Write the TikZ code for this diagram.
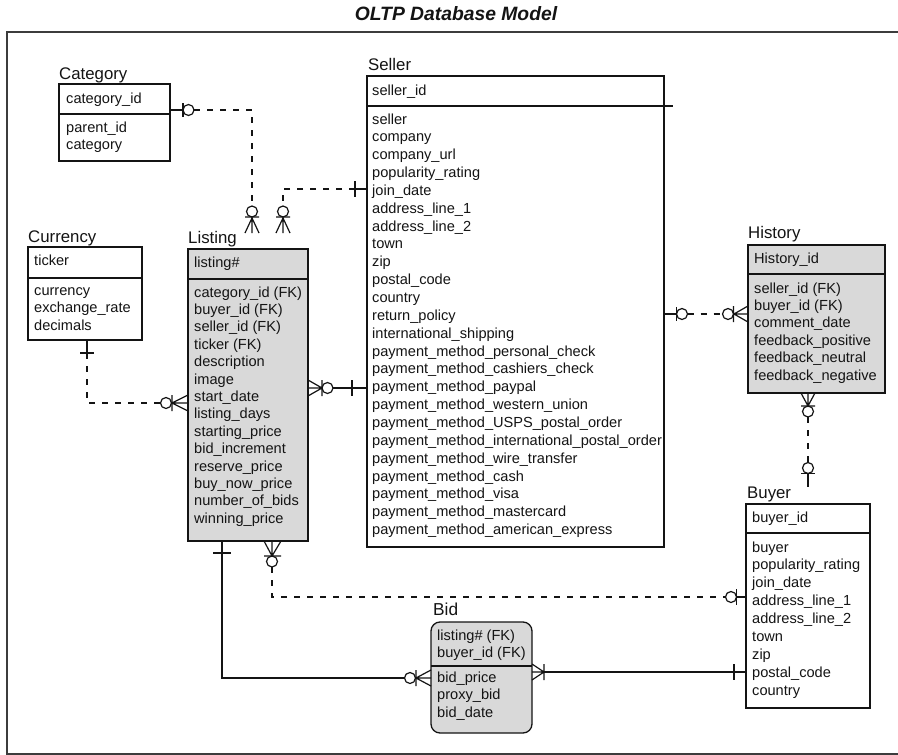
\documentclass[tikz,border=0pt]{standalone}
\usepackage{fontspec}
\setmainfont{Liberation Sans}
\definecolor{lgray}{RGB}{217,217,217}
\definecolor{framec}{RGB}{60,60,60}
\definecolor{ink}{RGB}{20,20,20}
\newcommand\rowfont{\fontsize{14.6}{17}\selectfont}
\newcommand\lblfont{\fontsize{16.8}{20}\selectfont}
\begin{document}
\begin{tikzpicture}[x=1pt,y=-1pt,
  tbox/.style={draw=ink, line width=1.3pt, inner sep=0pt, outer sep=0pt, anchor=north west},
  gbox/.style={tbox, fill=lgray},
  tline/.style={draw=ink, line width=1.3pt},
  row/.style={font=\rowfont, text=ink, anchor=base west, inner sep=0pt},
  lbl/.style={font=\lblfont, text=ink, anchor=base west, inner sep=0pt},
  conn/.style={draw=ink, line width=1.2pt},
  dconn/.style={conn, dash pattern=on 6pt off 7pt},
  ring/.style={conn, radius=5.5pt}]
\useasboundingbox (0,0) rectangle (898,755);
\fill[white] (0,0) rectangle (898,755);

% title and frame
\node[font=\fontsize{19.3}{23}\selectfont\bfseries\itshape, anchor=base, text=ink] (title) at (456,20) {OLTP Database Model};
\draw[framec, line width=1.8pt] (7,32) rectangle (912,754);

% Category
\node[tbox, minimum width=111pt, minimum height=77pt] (cat) at (59,84) {};
\draw[tline] (cat.west |- 0,114) -- (cat.east |- 0,114);
\node[lbl] (catL) at (59,79) {Category};
\node[row] (catK) at (66,103) {category\_id};
\foreach \t [count=\i from 0] in {parent\_id, category}
  \node[row] (cat\i) at (66,{132+17.3*\i}) {\t};

% Seller
\node[tbox, minimum width=297pt, minimum height=471pt] (sel) at (367,76) {};
\draw[tline] (sel.west |- 0,106) -- ++(306,0);
\node[lbl] (selL) at (368,70) {Seller};
\node[row] (selK) at (372,95) {seller\_id};
\foreach \t [count=\i from 0] in {seller, company, company\_url, popularity\_rating, join\_date,
  address\_line\_1, address\_line\_2, town, zip, postal\_code, country, return\_policy,
  international\_shipping, payment\_method\_personal\_check, payment\_method\_cashiers\_check,
  payment\_method\_paypal, payment\_method\_western\_union, payment\_method\_USPS\_postal\_order,
  payment\_method\_international\_postal\_order, payment\_method\_wire\_transfer,
  payment\_method\_cash, payment\_method\_visa, payment\_method\_mastercard,
  payment\_method\_american\_express}
  \node[row] (sel\i) at (372,{124+17.85*\i}) {\t};

% Currency
\node[tbox, minimum width=114pt, minimum height=93pt] (cur) at (28,247) {};
\draw[tline] (cur.west |- 0,278) -- (cur.east |- 0,278);
\node[lbl] (curL) at (28,242) {Currency};
\node[row] (curK) at (34,265) {ticker};
\foreach \t [count=\i from 0] in {currency, exchange\_rate, decimals}
  \node[row] (cur\i) at (34,{295+17.5*\i}) {\t};

% Listing
\node[gbox, minimum width=120pt, minimum height=292pt] (lst) at (188,249) {};
\draw[tline] (lst.west |- 0,279) -- (lst.east |- 0,279);
\node[lbl] (lstL) at (188,243) {Listing};
\node[row] (lstK) at (194,267) {listing\#};
\foreach \t [count=\i from 0] in {category\_id (FK), buyer\_id (FK), seller\_id (FK), ticker (FK),
  description, image, start\_date, listing\_days, starting\_price, bid\_increment,
  reserve\_price, buy\_now\_price, number\_of\_bids, winning\_price}
  \node[row] (lst\i) at (194,{297+17.4*\i}) {\t};

% History
\node[gbox, minimum width=137pt, minimum height=148pt] (his) at (748,245) {};
\draw[tline] (his.west |- 0,274) -- (his.east |- 0,274);
\node[lbl] (hisL) at (748,238) {History};
\node[row] (hisK) at (754,263) {History\_id};
\foreach \t [count=\i from 0] in {seller\_id (FK), buyer\_id (FK), comment\_date,
  feedback\_positive, feedback\_neutral, feedback\_negative}
  \node[row] (his\i) at (754,{293+17.4*\i}) {\t};

% Buyer
\node[tbox, minimum width=124pt, minimum height=204pt] (buy) at (746,504) {};
\draw[tline] (buy.west |- 0,533) -- (buy.east |- 0,533);
\node[lbl] (buyL) at (747,498) {Buyer};
\node[row] (buyK) at (752,522) {buyer\_id};
\foreach \t [count=\i from 0] in {buyer, popularity\_rating, join\_date, address\_line\_1,
  address\_line\_2, town, zip, postal\_code, country}
  \node[row] (buy\i) at (752,{552+17.9*\i}) {\t};

% Bid
\node[gbox, rounded corners=9pt, minimum width=101pt, minimum height=111pt] (bid) at (431,622) {};
\draw[tline] (bid.west |- 0,666) -- (bid.east |- 0,666);
\node[lbl, font=\fontsize{17.3}{20}\selectfont] (bidL) at (433,615) {Bid};
\foreach \t [count=\i from 0] in {listing\# (FK), buyer\_id (FK)}
  \node[row] (bidK\i) at (437,{640+17.5*\i}) {\t};
\foreach \t [count=\i from 0] in {bid\_price, proxy\_bid, bid\_date}
  \node[row] (bid\i) at (437,{682+17.5*\i}) {\t};

% ---------- connectors ----------
% Category -> Listing (dashed)
\draw[conn] (cat.east |- 0,110) -- (183,110) (183,103) -- (183,117);
\draw[ring] (188.5,110) circle;
\draw[dconn] (194,110) -| (252,206);
\draw[ring] (252,211.5) circle;
\draw[conn] (245,217) -- (259,217) (252,217) -- (252,233) (245,233) -- (252,218) -- (259,233);

% Seller -> Listing (dashed)
\draw[conn] (sel.west |- 0,189) -- (355,189) (355,181) -- (355,197);
\draw[dconn] (355,189) -| (283,206);
\draw[ring] (283,211.5) circle;
\draw[conn] (276,217) -- (290,217) (283,217) -- (283,233) (276,233) -- (283,218) -- (290,233);

% Currency -> Listing (dashed)
\draw[conn] (cur.south -| 87,0) -- (87,353) (80,353) -- (94,353);
\draw[dconn] (87,353) |- (160.5,403);
\draw[ring] (166,403) circle;
\draw[conn] (172,395) -- (172,411) (172,403) -- (lst.west |- 0,403)
  (lst.west |- 0,395) -- (172,403) -- (lst.west |- 0,411);

% Listing -> Seller (solid)
\draw[conn] (lst.east |- 0,380) -- (322,388) -- (lst.east |- 0,396) (lst.east |- 0,388) -- (322,388)
  (322,380) -- (322,396);
\draw[ring] (327.5,388) circle;
\draw[conn] (333,388) -- (sel.west |- 0,388) (352,380) -- (352,396);

% Seller -> History (dashed)
\draw[conn] (sel.east |- 0,314) -- (676.5,314) (676.5,307) -- (676.5,321);
\draw[ring] (682,314) circle;
\draw[dconn] (687.5,314) -- (722.5,314);
\draw[ring] (728,314) circle;
\draw[conn] (733.5,306) -- (733.5,322) (733.5,314) -- (his.west |- 0,314)
  (his.west |- 0,306) -- (734,314) -- (his.west |- 0,322);

% History -> Buyer (dashed)
\draw[conn] (his.south -| 801,0) -- (808,406) -- (his.south -| 815,0) (his.south -| 808,0) -- (808,406)
  (801,406) -- (815,406);
\draw[ring] (808,411.5) circle;
\draw[dconn] (808,417) -- (808,462.5);
\draw[ring] (808,468) circle;
\draw[conn] (801,473.5) -- (815,473.5) (808,473.5) -- (808,487);

% Listing -> Buyer (dashed)
\draw[conn] (lst.south -| 264,0) -- (272,556) -- (lst.south -| 281,0) (lst.south -| 272,0) -- (272,556)
  (264,556) -- (281,556);
\draw[ring] (272,561.5) circle;
\draw[dconn] (272,567) |- (725.5,597);
\draw[ring] (731,597) circle;
\draw[conn] (736.5,589) -- (736.5,605) (736.5,597) -- (buy.west |- 0,597);

% Listing -> Bid (solid)
\draw[conn] (lst.south -| 222,0) |- (404.5,678) (213,553) -- (231,553);
\draw[ring] (410,678) circle;
\draw[conn] (416,670) -- (416,686) (416,678) -- (bid.west |- 0,678)
  (bid.west |- 0,670) -- (416,678) -- (bid.west |- 0,686);

% Bid -> Buyer (solid)
\draw[conn] (bid.east |- 0,664) -- (544,672) -- (bid.east |- 0,680) (bid.east |- 0,672) -- (544,672)
  (544,664) -- (544,680);
\draw[conn] (544,672) -- (buy.west |- 0,672) (734,664) -- (734,680);
\end{tikzpicture}
\end{document}
